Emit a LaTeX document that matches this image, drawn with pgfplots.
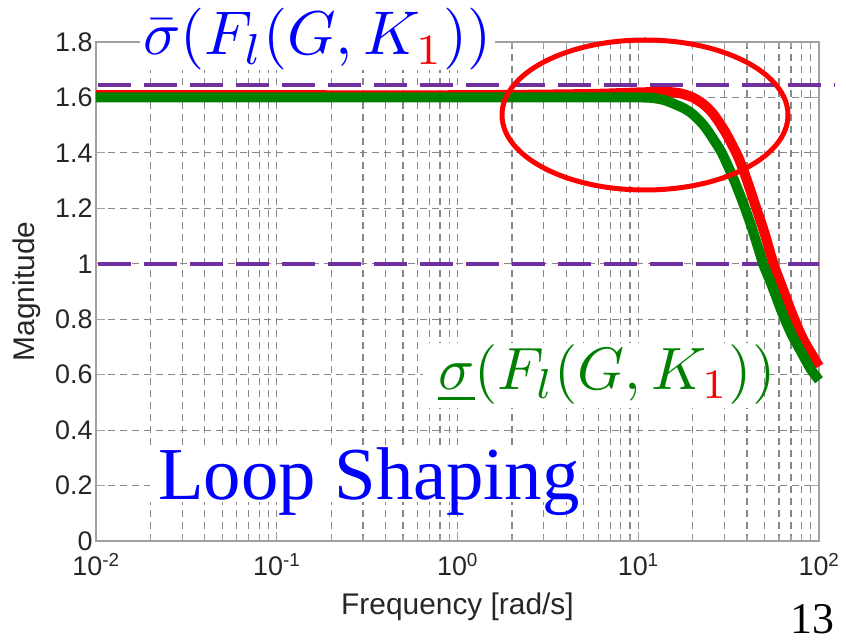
\documentclass[border=0pt]{standalone}
\usepackage{pgfplots}
\pgfplotsset{compat=1.18}
\usepackage{fontspec}
\setmainfont{Liberation Serif}
\newfontfamily\arialf{Liberation Sans}
\definecolor{mgreen}{RGB}{0,128,0}
\definecolor{mpurple}{RGB}{112,48,160}
\definecolor{tickgray}{RGB}{38,38,38}
\definecolor{axgray}{RGB}{160,160,160}
\definecolor{gridgray}{RGB}{135,135,135}
\begin{document}
\begin{tikzpicture}
\path[use as bounding box] (-96bp,-101bp) rectangle (750bp,541bp);
\begin{axis}[
  at={(0,0)}, anchor=south west, scale only axis,
  width=723bp, height=499bp,
  xmode=log, xmin=0.01, xmax=100, ymin=0, ymax=1.8,
  ytick={0,0.2,0.4,0.6,0.8,1,1.2,1.4,1.6,1.8},
  xtick={0.01,0.1,1,10,100},
  xticklabels={{10\textsuperscript{-2}},{10\textsuperscript{-1}},{10\textsuperscript{0}},{10\textsuperscript{1}},{10\textsuperscript{2}}},
  xmajorgrids, xminorgrids, ymajorgrids,
  grid style={dash pattern=on 7bp off 5bp, gridgray, line width=1.2bp},
  minor grid style={dash pattern=on 7bp off 5bp, gridgray, line width=1.2bp},
  major grid style={dash pattern=on 7bp off 5bp, gridgray, line width=1.2bp},
  axis line style={axgray, line width=1.6bp},
  every tick/.style={axgray, line width=1.2bp},
  major tick length=9bp, minor tick length=5bp,
  tick align=inside,
  ticklabel style={font=\arialf\fontsize{27}{30}\selectfont, text=tickgray},
  xticklabel style={yshift=-9bp},
  /pgf/number format/assume math mode=true,
  xlabel={Frequency [rad/s]}, ylabel={Magnitude},
  label style={font=\arialf\fontsize{30}{34}\selectfont, text=tickgray},
  xlabel style={at={(axis description cs:0.5,-0.132)}, anchor=center},
  ylabel style={at={(axis description cs:-0.0955,0.5)}, anchor=center},
  clip=false,
]
\addplot[mpurple, line width=4bp, dash pattern=on 33bp off 13bp] coordinates {(0.0102,1.645) (122,1.645)};
\addplot[mpurple, line width=4bp, dash pattern=on 33bp off 13bp] coordinates {(0.0102,1.0) (100,1.0)};
\addplot[red, line width=10bp, smooth, line join=round] coordinates {
(0.01,1.608) (0.1,1.608) (1,1.608) (5,1.612) (10,1.618) (14,1.62) (17,1.615)
(20,1.60) (23,1.575) (26,1.54) (30,1.48) (33,1.43) (36,1.38) (40,1.30)
(45,1.20) (50,1.11) (56,1.00) (63,0.91) (70,0.83) (80,0.74) (90,0.68) (100,0.63)};
\addplot[mgreen, line width=10bp, smooth, line join=round] coordinates {
(0.01,1.6) (0.1,1.6) (1,1.6) (5,1.6) (10,1.6) (12,1.598) (14,1.59) (16,1.575)
(18,1.56) (20,1.54) (23,1.50) (26,1.45) (29,1.40) (33,1.32) (37,1.24) (42,1.14)
(48,1.02) (49,1.0) (55,0.92) (62,0.83) (70,0.75) (80,0.68) (90,0.62) (100,0.58)};
\end{axis}
\fill[white] (44bp,471bp) rectangle (399bp,541bp);
\fill[white] (327bp,133bp) rectangle (667bp,198bp);
\fill[white] (54bp,39bp) rectangle (484bp,94bp);
\draw[red, line width=5bp] (549bp,426bp) ellipse [x radius=143bp, y radius=75bp];
\node[anchor=base west, inner sep=0, text=blue, font=\fontsize{10}{12}\selectfont] at (47bp,486bp) {\scalebox{6.2}{$\bar{\sigma}(F_l(G,K_{\color{red}1}))$}};
\node[anchor=base west, inner sep=0, text=mgreen, font=\fontsize{10}{12}\selectfont] at (342bp,151bp) {\scalebox{6.0}{$\underline{\sigma}(F_l(G,K_{\color{red}1}))$}};
\node[anchor=base west, inner sep=0, text=blue, font=\fontsize{75}{82}\selectfont] at (62bp,41bp) {Loop Shaping};
\node[anchor=base west, inner sep=0, text=black, font=\fontsize{44}{50}\selectfont] at (694bp,-92bp) {13};
\end{tikzpicture}
\end{document}
